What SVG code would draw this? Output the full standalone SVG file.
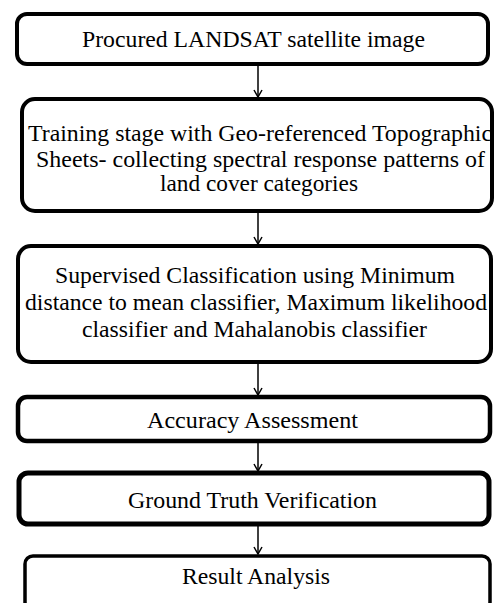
<svg xmlns="http://www.w3.org/2000/svg" width="496" height="603" viewBox="0 0 496 603">
<style>
.box{fill:#fff;stroke:#000;}
text{font-family:'Liberation Serif','DejaVu Serif',serif;font-size:23.5px;fill:#000;}
.c{stroke:#000;stroke-width:1.5;fill:none;}
.h{stroke:#000;stroke-width:1.5;fill:none;stroke-linejoin:miter;}
</style>
<rect width="496" height="603" fill="#fff"/>
<g id="n1">
<rect class="box" x="17" y="14" width="471" height="50" rx="10" stroke-width="4"/>
<text x="82" y="47" textLength="343" lengthAdjust="spacingAndGlyphs">Procured LANDSAT satellite image</text>
</g>
<g id="n2">
<rect class="box" x="22" y="99" width="470" height="112" rx="13" stroke-width="4"/>
<text x="28" y="141" textLength="464" lengthAdjust="spacingAndGlyphs">Training stage with Geo-referenced  Topographic</text>
<text x="36" y="167" textLength="449" lengthAdjust="spacingAndGlyphs">Sheets- collecting  spectral response patterns  of</text>
<text x="160" y="191" textLength="198" lengthAdjust="spacingAndGlyphs">land cover categories</text>
</g>
<g id="n3">
<rect class="box" x="18" y="246" width="473" height="116" rx="13" stroke-width="4"/>
<text x="55" y="283" textLength="400" lengthAdjust="spacingAndGlyphs">Supervised Classification using Minimum</text>
<text x="25" y="310" textLength="462" lengthAdjust="spacingAndGlyphs">distance to mean classifier, Maximum likelihood</text>
<text x="82" y="337" textLength="345" lengthAdjust="spacingAndGlyphs">classifier and Mahalanobis classifier</text>
</g>
<g id="n4">
<rect class="box" x="18" y="397" width="472" height="44" rx="9" stroke-width="4.5"/>
<text x="147" y="428" textLength="211" lengthAdjust="spacingAndGlyphs">Accuracy Assessment</text>
</g>
<g id="n5">
<rect class="box" x="19" y="473" width="470" height="51" rx="9" stroke-width="5"/>
<text x="128" y="508" textLength="249" lengthAdjust="spacingAndGlyphs">Ground Truth Verification</text>
</g>
<g id="n6">
<rect class="box" x="25" y="556" width="465" height="54" rx="8" stroke-width="3.5"/>
<text x="182" y="584" textLength="148" lengthAdjust="spacingAndGlyphs">Result Analysis</text>
</g>
<g id="connectors">
<line class="c" x1="258" y1="66" x2="258" y2="97"/>
<path class="h" d="M254,90 L258,97 L262,90"/>
<line class="c" x1="258" y1="213" x2="258" y2="244"/>
<path class="h" d="M254,237 L258,244 L262,237"/>
<line class="c" x1="258" y1="364" x2="258" y2="395"/>
<path class="h" d="M254,388 L258,395 L262,388"/>
<line class="c" x1="258" y1="443" x2="258" y2="471"/>
<path class="h" d="M254,464 L258,471 L262,464"/>
<line class="c" x1="258" y1="526" x2="258" y2="554"/>
<path class="h" d="M254,547 L258,554 L262,547"/>
</g>
</svg>
